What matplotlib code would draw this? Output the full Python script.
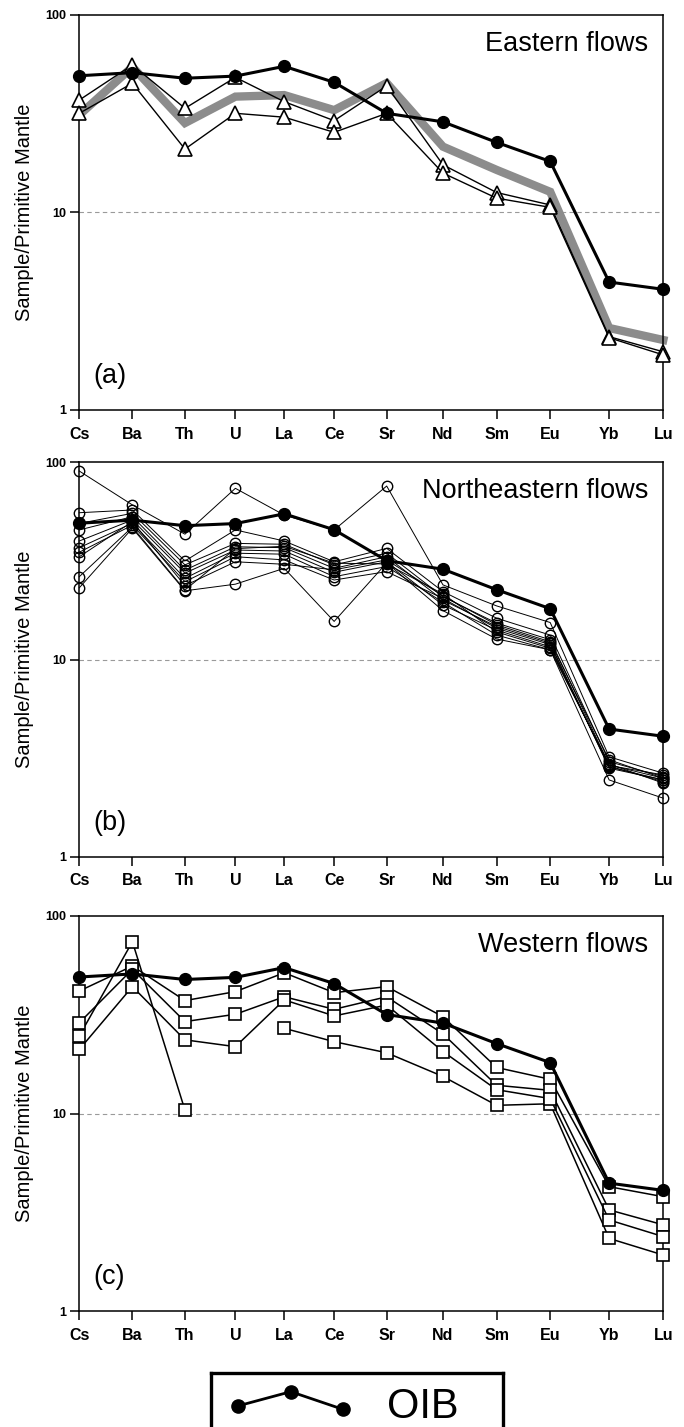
import numpy as np
import matplotlib
matplotlib.use('Agg')
import matplotlib.pyplot as plt

plt.rcParams['font.family'] = ['Liberation Sans', 'DejaVu Sans']

elements = ['Cs', 'Ba', 'Th', 'U', 'La', 'Ce', 'Sr', 'Nd', 'Sm', 'Eu', 'Yb', 'Lu']
# element positions along the x axis (spacing in the original is not quite even)
x_pos = [0, 1.0, 1.99, 2.94, 3.86, 4.80, 5.79, 6.85, 7.86, 8.87, 9.98, 11.0]

# OIB reference pattern (same in every panel)
oib = [49.1, 50.9, 47.7, 48.9, 54.8, 45.5, 31.7, 28.7, 22.6, 18.1, 4.44, 4.08]

# (a) Eastern flows
eastern_band = [31.1, 54.4, 28.3, 38.5, 39.2, 32.9, 45.1, 21.5, 16.4, 12.7, 2.60, 2.26]
eastern_1 = [37.0, 55.7, 33.6, 48.2, 36.3, 29.1, 43.6, 17.4, 12.6, 10.9, 2.35, 1.97]
eastern_2 = [31.7, 45.0, 20.9, 31.7, 30.3, 25.4, 31.7, 15.8, 11.8, 10.6, 2.32, 1.90]

# (b) Northeastern flows
ne_1 = [90.3, 60.8, 43.2, 73.8, 54.0, 45.4, 75.8, 23.9, 18.7, 15.4, 3.21, 2.65]
ne_2 = [23.1, 46.3, 22.3, 24.1, 29.0, 15.6, 30.9, 17.7, 12.7, 11.2, 2.45, 1.98]
ne_3 = [55.5, 57.3, 31.6, 45.4, 39.9, 31.3, 36.6, 22.1, 16.2, 13.3, 3.03, 2.55]
ne_4 = [49.0, 55.1, 30.2, 38.8, 38.4, 30.2, 34.6, 20.8, 15.3, 12.6, 2.92, 2.50]
ne_5 = [45.4, 53.0, 28.4, 37.3, 36.9, 29.0, 33.2, 20.0, 14.7, 12.1, 2.81, 2.45]
ne_6 = [39.9, 51.0, 27.4, 35.9, 35.5, 27.7, 31.3, 18.9, 14.1, 11.6, 2.88, 2.40]
ne_7 = [36.9, 49.1, 25.8, 34.6, 34.2, 26.3, 29.6, 19.5, 13.3, 11.2, 2.95, 2.36]
ne_8 = [35.0, 48.0, 24.8, 33.2, 32.0, 25.3, 27.9, 20.4, 14.4, 11.9, 2.85, 2.45]
ne_9 = [33.2, 50.0, 23.7, 31.3, 30.4, 28.5, 32.0, 21.0, 15.0, 12.3, 3.10, 2.50]
ne_10 = [26.3, 47.0, 22.5, 36.5, 37.5, 30.8, 30.5, 21.5, 13.8, 11.4, 2.90, 2.60]

# (c) Western flows (nan = not analysed)
w_1 = [41.7, 55.8, 37.3, 41.4, 51.6, 40.9, 43.9, 30.9, 17.1, 14.9, 4.26, 3.79]
w_2 = [24.7, 74.1, 10.4, np.nan, 27.0, 23.1, 20.3, 15.4, 11.0, 11.2, 2.33, 1.92]
w_3 = [28.8, 53.7, 29.2, 31.8, 39.0, 33.7, 39.0, 25.3, 13.9, 13.1, 3.25, 2.73]
w_4 = [21.1, 43.9, 23.6, 21.8, 37.6, 31.2, 35.4, 20.6, 13.2, 11.9, 2.89, 2.38]

W, H = 684, 1427
fig = plt.figure(figsize=(W / 100, H / 100), dpi=100)


def make_axes(top, bottom):
    left, right = 79.3, 663.3
    ax = fig.add_axes([left / W, (H - bottom) / H, (right - left) / W, (bottom - top) / H])
    ax.set_yscale('log')
    ax.set_ylim(1, 100)
    ax.set_xlim(x_pos[0], x_pos[-1])
    ax.set_yticks([1, 10, 100])
    ax.set_yticklabels(['1', '10', '100'])
    ax.yaxis.set_minor_locator(matplotlib.ticker.NullLocator())
    ax.set_xticks(x_pos)
    ax.set_xticklabels(elements)
    ax.tick_params(axis='x', direction='out', length=6.5, width=1.1, pad=5.5,
                   labelsize=11.5)
    ax.tick_params(axis='y', direction='out', length=6.5, width=1.1, pad=3,
                   labelsize=9)
    for lab in ax.get_xticklabels() + ax.get_yticklabels():
        lab.set_fontweight('bold')
    for sp in ax.spines.values():
        sp.set_linewidth(1.1)
    ax.axhline(10, color='#9a9a9a', lw=0.8, ls=(0, (4, 3)), zorder=0)
    ax.set_ylabel('Sample/Primitive Mantle', fontsize=14.5)
    ax.yaxis.set_label_coords(-0.078, 0.5)
    return ax


def draw_oib(ax):
    ax.plot(x_pos, oib, color='black', lw=2.2, marker='o', ms=8.5,
            mfc='black', mec='black', zorder=5, clip_on=False)


def panel_text(ax, title, tag):
    ax.text(0.974, 0.909, title, transform=ax.transAxes, ha='right',
            va='baseline', fontsize=19.5)
    ax.text(0.024, 0.068, tag, transform=ax.transAxes, ha='left',
            va='baseline', fontsize=19.5)


# (a)
ax1 = make_axes(14.7, 410)
ax1.plot(x_pos, eastern_band, color='#8c8c8c', lw=6, zorder=1,
         solid_joinstyle='miter', clip_on=False)
for s in [eastern_1, eastern_2]:
    ax1.plot(x_pos, s, color='black', lw=1.0, marker='^', ms=10, mfc='white',
             mec='black', mew=1.2, zorder=3, clip_on=False)
draw_oib(ax1)
panel_text(ax1, 'Eastern flows', '(a)')

# (b)
ax2 = make_axes(462.3, 856.7)
for s in [ne_1, ne_2, ne_3, ne_4, ne_5, ne_6, ne_7, ne_8, ne_9, ne_10]:
    ax2.plot(x_pos, s, color='black', lw=0.7, marker='o', ms=7.5, mfc='none',
             mec='black', mew=1.0, zorder=3, clip_on=False)
draw_oib(ax2)
panel_text(ax2, 'Northeastern flows', '(b)')

# (c)
ax3 = make_axes(916, 1311)
for s in [w_1, w_2, w_3, w_4]:
    ax3.plot(x_pos, s, color='black', lw=1.1, marker='s', ms=8, mfc='white',
             mec='black', mew=1.2, zorder=3, clip_on=False)
draw_oib(ax3)
panel_text(ax3, 'Western flows', '(c)')

# legend box at the bottom (runs off the lower edge)
lx0, lx1, ly0, ly1 = 211, 503.3, 1372.7, 1440
lax = fig.add_axes([lx0 / W, (H - ly1) / H, (lx1 - lx0) / W, (ly1 - ly0) / H])
lax.set_xlim(0, 1)
lax.set_ylim(0, 1)
lax.set_xticks([])
lax.set_yticks([])
for sp in lax.spines.values():
    sp.set_linewidth(2.4)
lax.plot([0.091, 0.273, 0.451], [0.505, 0.718, 0.456], color='black', lw=2.0,
         marker='o', ms=9.5, mfc='black')
lax.text(0.603, 0.327, 'OIB', fontsize=30, ha='left', va='baseline')

fig.savefig('out.png', dpi=100)
